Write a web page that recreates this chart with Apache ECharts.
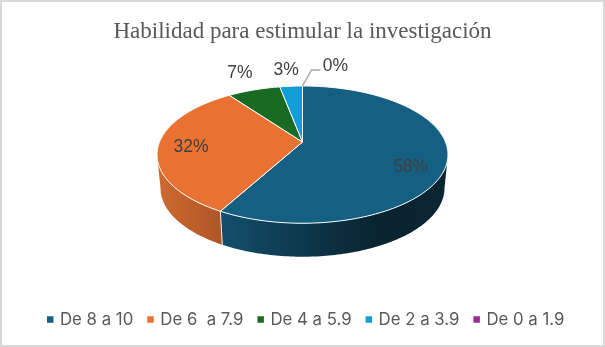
<!DOCTYPE html>
<html><head><meta charset="utf-8">
<style>html,body{margin:0;padding:0;background:#fff}#c{width:605px;height:347px}</style>
<script src="https://cdn.jsdelivr.net/npm/echarts@6/dist/echarts.min.js"></script>
</head><body><div id="c"></div>
<script>
const titleText = 'Habilidad para estimular la investigación';
const categories = ['De 8 a 10', 'De 6  a 7.9', 'De 4 a 5.9', 'De 2 a 3.9', 'De 0 a 1.9'];
const shares = [58, 32, 7, 3, 0];
const colors = ['#156082', '#E97132', '#196B24', '#0F9ED5', '#A02B93'];
const wallStops = [
  [[0, '#134F6C'], [0.4, '#0D3549'], [0.7, '#09232F'], [1, '#0A2632']],
  [[0, '#CC6B31'], [0.6, '#BC5E2A'], [1, '#AE5626']],
  null, null, null];
const labelOffsets = [[-37, 8], [33, 1], [-14, -17], [-5, -16], [33, -20]];

// Projection of the tilted disc
const view = {cx: 302.5, cy: 142, a: 143, b: 66.3, k: 0.184, depth: 33.5, shrink: 0.976};
function project(deg, r) {
  const t = deg * Math.PI / 180, d = 1 + view.k * r * Math.cos(t);
  return [view.cx + view.a * r * Math.sin(t) / d, view.cy - view.b * r * Math.cos(t) / d];
}
function lower(p) {
  return [view.cx + (p[0] - view.cx) * view.shrink, p[1] + view.depth];
}
function rim(from, to) {
  const n = Math.max(2, Math.ceil(Math.abs(to - from))), pts = [];
  for (let i = 0; i <= n; i++) pts.push(project(from + (to - from) * i / n, 1));
  return pts;
}
const total = shares.reduce((s, v) => s + v, 0);
const starts = [];
shares.reduce((s, v, i) => (starts[i] = s, s + v), 0);
const frontFrom = 180 - Math.acos(view.k) * 180 / Math.PI;
const frontTo = 360 - frontFrom;

function makeRender(idx) {
  return function () {
    const a0 = starts[idx] / total * 360, a1 = (starts[idx] + shares[idx]) / total * 360;
    const children = [];
    const w0 = Math.max(a0, frontFrom), w1 = Math.min(a1, frontTo);
    if (wallStops[idx] && w1 > w0) {
      const top = rim(w0, w1);
      const bottom = top.map(lower).reverse();
      children.push({type: 'polygon', shape: {points: top.concat(bottom)}, style: {
        fill: new echarts.graphic.LinearGradient(0, 0, 1, 0, wallStops[idx].map(s => ({offset: s[0], color: s[1]})))
      }});
      if (idx === 0) {
        const e = project(w1, 1), f = lower(e);
        children.push({type: 'line', shape: {x1: e[0], y1: e[1], x2: f[0], y2: f[1]},
          style: {stroke: '#F4EDE8', lineWidth: 1}, z2: 3});
      }
    }
    if (shares[idx] > 0) {
      children.push({type: 'polygon', shape: {points: [project(0, 0)].concat(rim(a0, a1))},
        style: {fill: colors[idx], stroke: '#fff', lineWidth: 1, lineJoin: 'round'}, z2: 5});
    }
    const mid = project((a0 + a1) / 2, 1);
    const lx = mid[0] + labelOffsets[idx][0], ly = mid[1] + labelOffsets[idx][1];
    if (shares[idx] === 0) {
      children.push({type: 'polyline', shape: {points: [[mid[0], mid[1]], [mid[0] + 9, mid[1] - 16], [mid[0] + 18, mid[1] - 16]]},
        style: {fill: 'none', stroke: '#A6A6A6', lineWidth: 1.5}, z2: 6});
    }
    children.push({type: 'text', x: lx, y: ly, z2: 10, style: {
      text: shares[idx] + '%', fill: '#404040', font: '17.5px "Liberation Sans"', align: 'center', verticalAlign: 'middle'}});
    return {type: 'group', children};
  };
}

const chart = echarts.init(document.getElementById('c'), null, {renderer: 'canvas'});
chart.setOption({
  animation: false,
  backgroundColor: '#fff',
  color: colors,
  title: {text: titleText, left: 'center', top: 15, textStyle: {
    fontFamily: '"Liberation Serif"', fontSize: 23, fontWeight: 'normal', color: '#595959'}},
  legend: {
    data: categories, icon: 'rect', itemWidth: 6.5, itemHeight: 6.5, itemGap: 14, left: 42, top: 306,
    textStyle: {fontFamily: 'Inter', fontSize: 16.8, color: '#595959', padding: [0, 0, 0, 1.5]}
  },
  graphic: [{type: 'rect', silent: true, z: -10, shape: {x: 1, y: 1, width: 603, height: 345},
    style: {fill: 'none', stroke: '#D9D9D9', lineWidth: 2}}],
  series: categories.map((name, i) => ({
    type: 'custom', name, coordinateSystem: 'none', silent: true,
    itemStyle: {color: colors[i]},
    data: [shares[i]], renderItem: makeRender(i)
  }))
});
</script></body></html>
